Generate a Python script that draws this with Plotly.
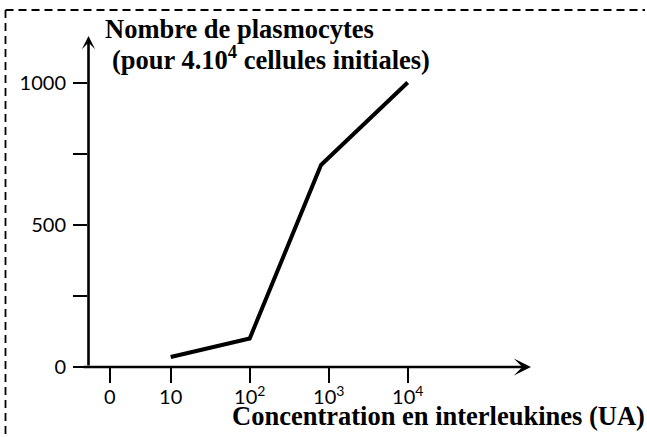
import plotly.graph_objects as go

# ---- data ----
conc = [10, 100, 800, 10000]          # interleukin concentration (UA)
plasmocytes = [35, 100, 710, 1000]    # plasmocytes per 4.10^4 initial cells

x_tick_vals = [1.7, 10, 100, 1000, 10000]
x_tick_text = ["0", "10", "10<sup>2</sup>", "10<sup>3</sup>", "10<sup>4</sup>"]
y_tick_vals = [0, 250, 500, 750, 1000]
y_tick_text = ["0", "", "500", "", "1000"]

y_title_1 = "Nombre de plasmocytes"
y_title_2 = "(pour 4.10<sup>4</sup> cellules initiales)"
x_title = "Concentration en interleukines (UA)"

# ---- layout geometry ----
W, H = 647, 437
L, R, T, B = 88, 116, 36, 70
PW, PH = W - L - R, H - T - B


def xp(px):
    return (px - L) / PW


def yp(py):
    return (H - B - py) / PH


fig = go.Figure()
fig.add_trace(go.Scatter(
    x=conc, y=plasmocytes, mode="lines",
    line=dict(color="black", width=4),
    cliponaxis=False, showlegend=False, hoverinfo="skip",
))

tick_font = dict(family="Lato", size=20, color="black")
serif_bold = dict(family="Liberation Serif", size=26.5, color="black")

fig.update_xaxes(
    type="log", range=[-0.047, 5.561],
    tickvals=x_tick_vals, ticktext=x_tick_text,
    ticks="outside", ticklen=15, tickwidth=2, tickcolor="black",
    showline=False, showgrid=False, zeroline=False,
    tickfont=tick_font, ticklabelstandoff=-3,
)
fig.update_yaxes(
    range=[0, 1163.5],
    tickvals=y_tick_vals, ticktext=y_tick_text,
    ticks="outside", ticklen=14, tickwidth=2, tickcolor="black",
    showline=False, showgrid=False, zeroline=False,
    tickfont=tick_font, ticklabelstandoff=3,
)

annotations = [
    # x axis arrow
    dict(x=xp(531), y=yp(367), xref="paper", yref="paper", text="",
         showarrow=True, ax=-(531 - 82), ay=0, arrowhead=3, arrowsize=1.1,
         arrowwidth=2.6, arrowcolor="black"),
    # y axis arrow
    dict(x=xp(88.5), y=yp(36), xref="paper", yref="paper", text="",
         showarrow=True, ax=0, ay=367 - 36, arrowhead=3, arrowsize=0.85,
         arrowwidth=2.6, arrowcolor="black"),
    dict(x=xp(103), y=yp(29), xref="paper", yref="paper",
         text="<b>" + y_title_1 + "</b>", showarrow=False,
         xanchor="left", yanchor="middle", font=serif_bold),
    dict(x=xp(110), y=yp(58), xref="paper", yref="paper",
         text="<b>" + y_title_2 + "</b>", showarrow=False,
         xanchor="left", yanchor="middle", font=serif_bold),
    dict(x=xp(230), y=yp(416), xref="paper", yref="paper",
         text="<b>" + x_title + "</b>", showarrow=False,
         xanchor="left", yanchor="middle", font=serif_bold),
]

border = dict(color="black", width=1.8, dash="8px,5px")
shapes = [
    dict(type="line", xref="paper", yref="paper",
         x0=xp(5.5), x1=xp(5.5), y0=yp(10), y1=yp(437), line=border),
    dict(type="line", xref="paper", yref="paper",
         x0=xp(5.5), x1=xp(645), y0=yp(10), y1=yp(10), line=border),
]

fig.update_layout(
    width=W, height=H,
    margin=dict(l=L, r=R, t=T, b=B, pad=0),
    paper_bgcolor="white", plot_bgcolor="white",
    annotations=annotations, shapes=shapes,
    showlegend=False,
)

fig.write_html(
    "out.html",
    config={"displayModeBar": False},
    post_script="document.body.style.margin='0px';"
                "document.body.style.overflow='hidden';",
)
